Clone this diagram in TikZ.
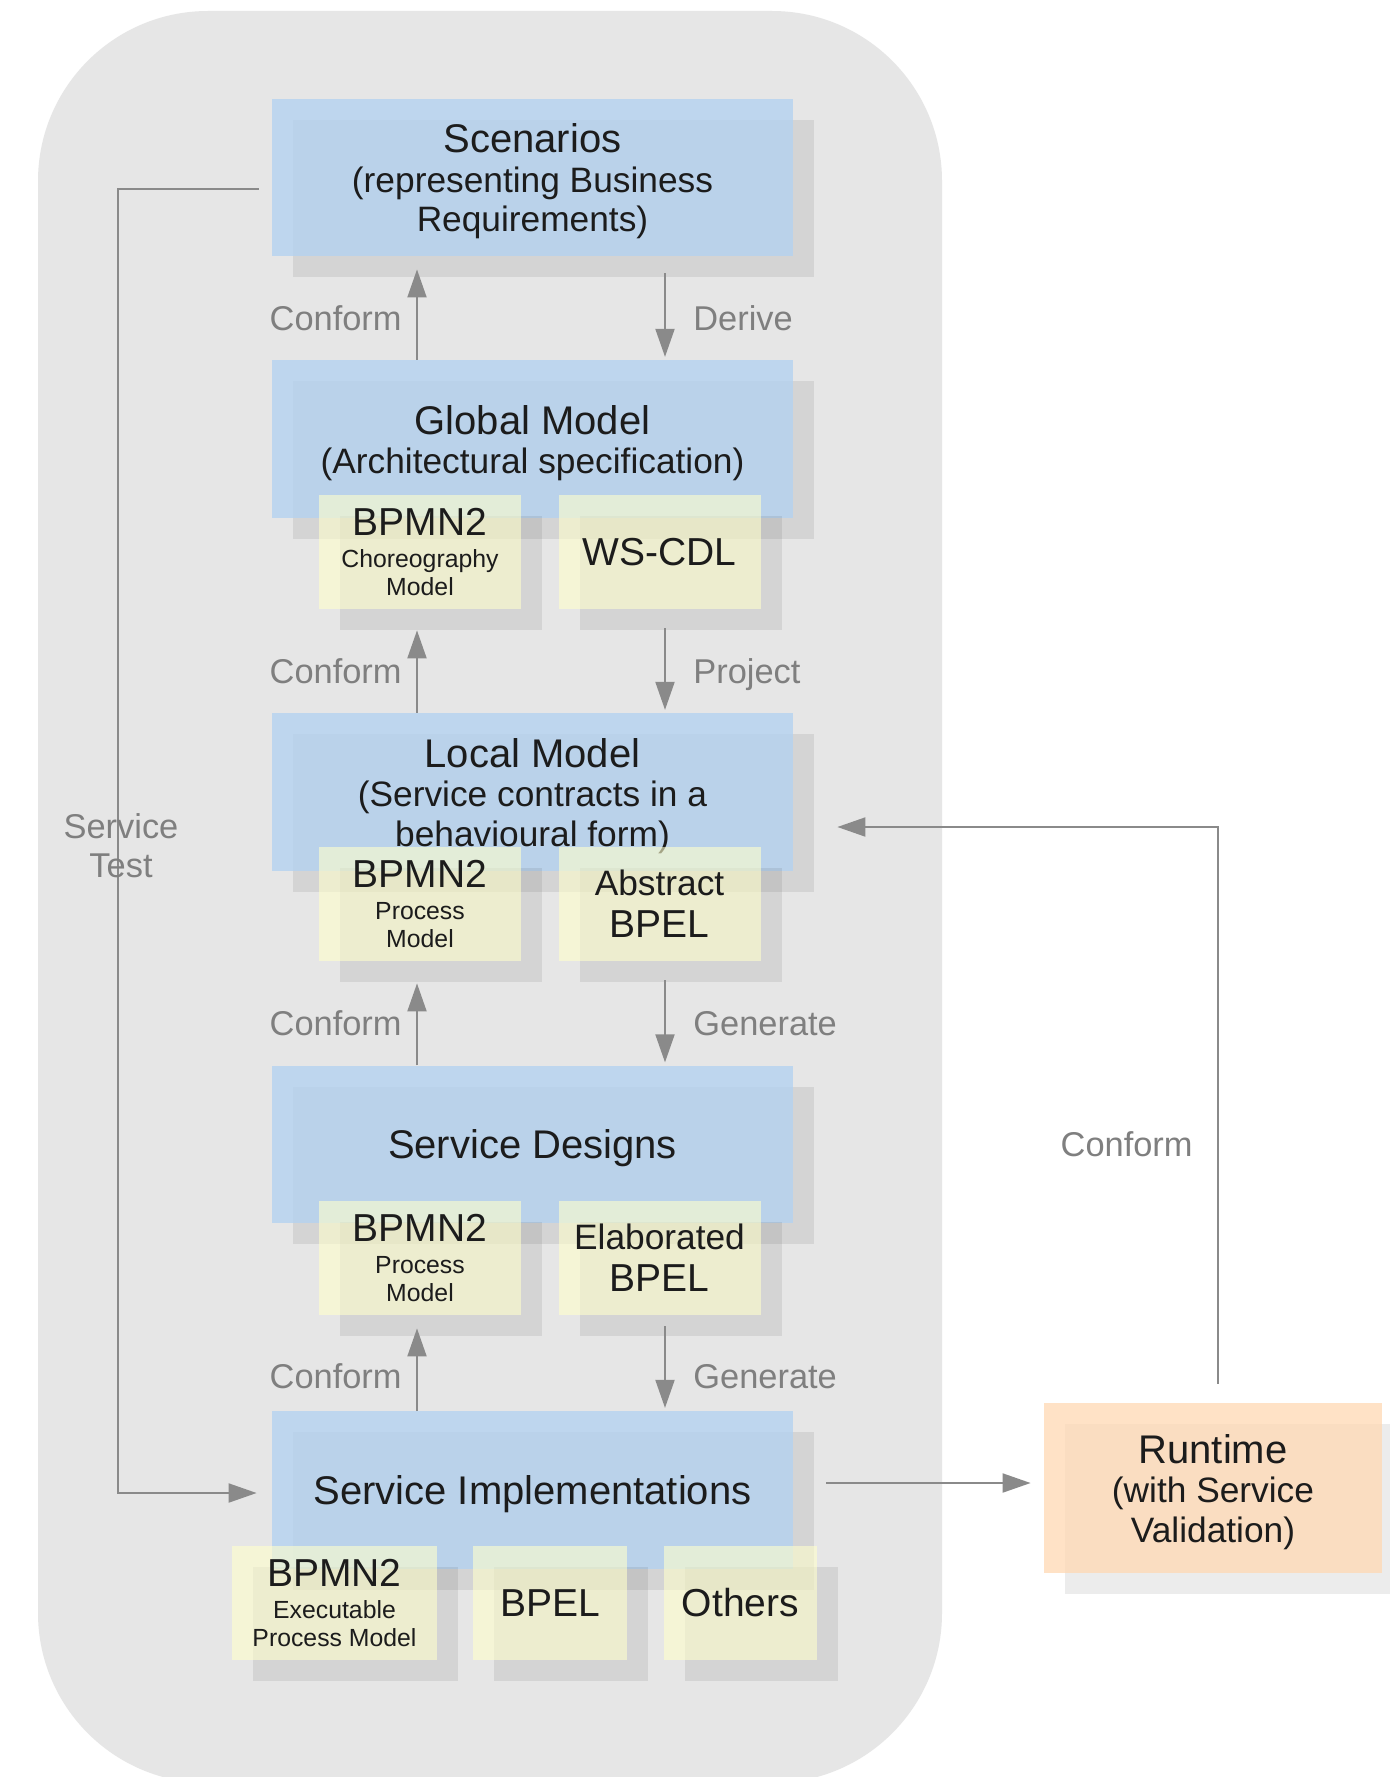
\documentclass[tikz,border=0pt]{standalone}
\usepackage{fontspec}
\setmainfont{Liberation Sans}
\usetikzlibrary{arrows.meta,shadows,calc}
\definecolor{bgc}{HTML}{E6E6E6}
\definecolor{boxblue}{HTML}{B4D2F0}
\definecolor{boxyel}{HTML}{FFFFCC}
\definecolor{boxorg}{HTML}{FFD9B3}
\definecolor{linec}{HTML}{8A8A8A}
\definecolor{labc}{HTML}{7F7F7F}
\definecolor{txtc}{HTML}{1C1C1C}
\newcommand\fTtl{\fontsize{20pt}{19.75pt}\selectfont}
\newcommand\fSub{\fontsize{17.65pt}{19.75pt}\selectfont}
\newcommand\fBig{\fontsize{19.5pt}{19.75pt}\selectfont}
\newcommand\fSml{\fontsize{12.4pt}{13.9pt}\selectfont}
\newcommand\fTwo{\fontsize{17.65pt}{21pt}\selectfont}
\newcommand\fLab{\fontsize{17.2pt}{19.5pt}\selectfont}
\newcommand\tStr{\rule{0pt}{18.5pt}}
\begin{document}
\begin{tikzpicture}[x=0.5pt,y=-0.5pt,
  shad/.style={drop shadow={shadow xshift=10.5pt,shadow yshift=-10.5pt,fill=black,opacity=0.075}},
  bluebox/.style={shad,rectangle,fill=boxblue,fill opacity=0.8,text opacity=1,text=txtc,
    minimum width=260.5pt,minimum height=78.75pt,inner sep=0pt,align=center,font=\fSub},
  yelbox/.style={shad,rectangle,fill=boxyel,fill opacity=0.6,text opacity=1,text=txtc,
    minimum width=101pt,minimum height=57pt,inner sep=0pt,align=center,font=\fSml},
  orgbox/.style={shad,rectangle,fill=boxorg,fill opacity=0.75,text opacity=1,text=txtc,
    minimum width=169pt,minimum height=85pt,inner sep=0pt,align=center,font=\fSub},
  arr/.style={draw=linec,line width=1pt,-{Triangle[length=14pt,width=9.5pt]}},
  lab/.style={text=labc,font=\fLab,inner sep=0pt}]
\useasboundingbox (0,0) rectangle (1390,1777);
\fill[white] (0,0) rectangle (1390,1777);
\fill[bgc,rounded corners=85pt] (38,11) rectangle (942,1783);

% main level boxes
\node[bluebox] (scen) at (532.5,177.3) {{\fTtl\tStr Scenarios}\\(representing Business\\Requirements)};
\node[bluebox] (glob) at (532.5,439) {{\fTtl\tStr Global Model}\\(Architectural specification)};
\node[bluebox] (loc) at (532.5,792) {{\fTtl\tStr Local Model}\\(Service contracts in a\\behavioural form)};
\node[bluebox] (des) at (532.5,1144.5) {{\fTtl\tStr Service Designs}};
\node[bluebox] (si) at (532.5,1490) {{\fTtl\tStr Service Implementations}};

% notation boxes
\node[yelbox] (gbp) at (420,552) {{\fBig BPMN2}\\[2pt]Choreography\\Model};
\node[yelbox] (gws) at (659.5,552) {{\fBig WS-CDL}};
\node[yelbox] (lbp) at (420,904) {{\fBig BPMN2}\\[2pt]Process\\Model};
\node[yelbox,font=\fTwo] (lab) at (659.5,904) {Abstract\\{\fBig BPEL}};
\node[yelbox] (dbp) at (420,1258) {{\fBig BPMN2}\\[2pt]Process\\Model};
\node[yelbox,font=\fTwo] (del) at (659.5,1258) {Elaborated\\{\fBig BPEL}};
\node[yelbox,minimum width=102.5pt] (sbp) at (334.5,1603) {{\fBig BPMN2}\\[2pt]Executable\\Process Model};
\node[yelbox,minimum width=77pt] (sbl) at (550,1603) {{\fBig BPEL}};
\node[yelbox,minimum width=76.5pt] (sot) at (740.5,1603) {{\fBig Others}};

% runtime
\node[orgbox] (rt) at (1213,1488) {{\fTtl\tStr Runtime}\\(with Service\\Validation)};

% vertical connectors
\coordinate (cl) at (417,0);
\coordinate (cr) at (665,0);
\draw[arr,shorten >=6.5pt] (glob.north -| cl) -- (scen.south -| cl);
\draw[arr,shorten <=8.5pt,shorten >=1.5pt] (scen.south -| cr) -- (glob.north -| cr);
\draw[arr,shorten >=10.5pt] (loc.north -| cl) -- (gbp.south -| cl);
\draw[arr,shorten <=9.5pt,shorten >=1.5pt] (gws.south -| cr) -- (loc.north -| cr);
\draw[arr,shorten >=11pt] (des.north -| cl) -- (lbp.south -| cl);
\draw[arr,shorten <=9.5pt,shorten >=1.5pt] (lab.south -| cr) -- (des.north -| cr);
\draw[arr,shorten >=6.5pt] (si.north -| cl) -- (dbp.south -| cl);
\draw[arr,shorten <=5.5pt,shorten >=1.5pt] (del.south -| cr) -- (si.north -| cr);

% connector labels
\node[lab,anchor=base east] (lc1) at (402,330) {Conform};
\node[lab,anchor=base west] (ld1) at (693,330) {Derive};
\node[lab,anchor=base east] (lc2) at (402,683) {Conform};
\node[lab,anchor=base west] (ld2) at (693,683) {Project};
\node[lab,anchor=base east] (lc3) at (402,1035.5) {Conform};
\node[lab,anchor=base west] (ld3) at (693,1035.5) {Generate};
\node[lab,anchor=base east] (lc4) at (402,1388.5) {Conform};
\node[lab,anchor=base west] (ld4) at (693,1388.5) {Generate};

% service test loop
\coordinate (stc) at (118,845);
\draw[arr] ([xshift=-6.5pt,yshift=-6pt]scen.west) -| (stc) |- ([xshift=-7.5pt,yshift=-1.5pt]si.west);
\node[lab,align=center] (stl) at (121,846) {Service\\Test};

% implementations to runtime
\draw[arr,shorten <=16.5pt,shorten >=6.5pt] ([yshift=3.5pt]si.east) -- ([yshift=3.5pt]si.east -| rt.west);
% runtime conformance back to local model
\draw[arr,shorten <=9.5pt] ([xshift=2.5pt]rt.north) |- ([xshift=22pt,yshift=-17.5pt]loc.east);
\node[lab,anchor=base east] (lrc) at (1193,1156) {Conform};
\end{tikzpicture}
\end{document}
